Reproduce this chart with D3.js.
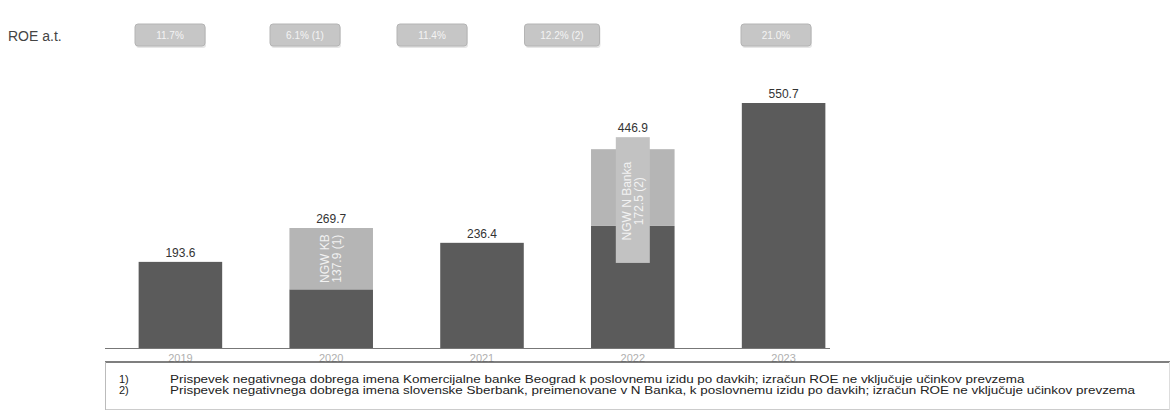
<!DOCTYPE html>
<html>
<head>
<meta charset="utf-8">
<script src="https://cdn.jsdelivr.net/npm/d3@7"></script>
<style>
  body { margin: 0; background: #fff; }
  svg { display: block; font-family: "Liberation Sans", Arial, sans-serif; }
</style>
</head>
<body>
<script>
// data
var years = ["2019", "2020", "2021", "2022", "2023"];
var totals = [193.6, 269.7, 236.4, 446.9, 550.7];
var ngw = [0, 137.9, 0, 172.5, 0];
var ngwLabels = ["", "NGW KB|137.9 (1)", "", "NGW N Banka|172.5 (2)", ""];
var roe = ["11.7%", "6.1% (1)", "11.4%", "12.2% (2)", "21.0%"];
var notes = [
  ["1)", "Prispevek negativnega dobrega imena Komercijalne banke Beograd k poslovnemu izidu po davkih; izračun ROE ne vključuje učinkov prevzema"],
  ["2)", "Prispevek negativnega dobrega imena slovenske Sberbank, preimenovane v N Banka, k poslovnemu izidu po davkih; izračun ROE ne vključuje učinkov prevzema"]
];

var W = 1174, H = 414;
var baseY = 348;

var svg = d3.select("body").append("svg")
  .attr("width", W)
  .attr("height", H);

var x = d3.scaleBand()
  .domain(years)
  .range([105, 859])
  .paddingInner(0.446)
  .paddingOuter(0.223);

var y = d3.scaleLinear()
  .domain([0, 550.7])
  .range([baseY, 103]);

// ROE boxes (not aligned to bars in the original)
var roeX = d3.scaleOrdinal().domain(years).range([170, 305, 432, 562, 776]);
var roeW = [70, 70, 70, 75, 70];

svg.append("text")
  .attr("x", 8).attr("y", 41)
  .attr("font-size", 14)
  .attr("fill", "#444")
  .text("ROE a.t.");

var roeG = svg.selectAll(".roe")
  .data(years)
  .enter().append("g")
  .attr("class", "roe");

roeG.append("rect")
  .attr("x", function(d, i) { return roeX(d) - roeW[i] / 2 + 1; })
  .attr("y", 26)
  .attr("width", function(d, i) { return roeW[i]; })
  .attr("height", 22)
  .attr("rx", 3)
  .attr("fill", "#e6e6e6");

roeG.append("rect")
  .attr("x", function(d, i) { return roeX(d) - roeW[i] / 2; })
  .attr("y", 24)
  .attr("width", function(d, i) { return roeW[i]; })
  .attr("height", 22)
  .attr("rx", 3)
  .attr("fill", "#c6c6c6")
  .attr("stroke", "#b4b4b4");

roeG.append("text")
  .attr("x", function(d) { return roeX(d); })
  .attr("y", 39)
  .attr("text-anchor", "middle")
  .attr("font-size", 10)
  .attr("fill", "#f4f4f4")
  .text(function(d, i) { return roe[i]; });

// baseline
svg.append("line")
  .attr("x1", 105).attr("x2", 830)
  .attr("y1", baseY + 0.5).attr("y2", baseY + 0.5)
  .attr("stroke", "#777")
  .attr("stroke-width", 1);

// dark part
svg.selectAll(".dark")
  .data(years)
  .enter().append("rect")
  .attr("x", function(d) { return x(d); })
  .attr("width", x.bandwidth())
  .attr("y", function(d, i) { return y(totals[i] - ngw[i]); })
  .attr("height", function(d, i) { return baseY - y(totals[i] - ngw[i]); })
  .attr("fill", "#5b5b5b");

// light NGW part
svg.selectAll(".light")
  .data(years.filter(function(d, i) { return ngw[i] > 0; }))
  .enter().append("rect")
  .attr("x", function(d) { return x(d); })
  .attr("width", x.bandwidth())
  .attr("y", function(d) { var i = years.indexOf(d); return y(totals[i]); })
  .attr("height", function(d) { var i = years.indexOf(d); return y(totals[i] - ngw[i]) - y(totals[i]); })
  .attr("fill", "#b5b5b5");

// 2022 label background sticking out of the bar
var i22 = years.indexOf("2022");
svg.append("rect")
  .attr("x", x("2022") + x.bandwidth() / 2 - 17)
  .attr("width", 34)
  .attr("y", y(totals[i22]) - 12)
  .attr("height", y(totals[i22] - ngw[i22]) + 37 - (y(totals[i22]) - 12))
  .attr("fill", "#c2c2c2");

// rotated NGW labels
years.forEach(function(d, i) {
  if (!ngw[i]) return;
  var lines = ngwLabels[i].split("|");
  var cx = x(d) + x.bandwidth() / 2;
  var cy = i === 1 ? (y(totals[i]) + y(totals[i] - ngw[i])) / 2 : y(totals[i]) + 52;
  var t = svg.append("text")
    .attr("transform", "translate(" + cx + "," + cy + ") rotate(-90)")
    .attr("text-anchor", "middle")
    .attr("font-size", 12)
    .attr("fill", "#f2f2f2");
  t.append("tspan").attr("x", 0).attr("dy", -2).text(lines[0]);
  t.append("tspan").attr("x", 0).attr("dy", 12).text(lines[1]);
});

// total labels
svg.selectAll(".val")
  .data(years)
  .enter().append("text")
  .attr("x", function(d) { return x(d) + x.bandwidth() / 2; })
  .attr("y", function(d, i) { return y(totals[i]) - (i === 3 ? 17 : 5); })
  .attr("text-anchor", "middle")
  .attr("font-size", 12)
  .attr("fill", "#333")
  .text(function(d, i) { return totals[i].toFixed(1); });

// x axis labels
svg.append("g")
  .attr("transform", "translate(0," + (baseY + 2) + ")")
  .call(d3.axisBottom(x).tickSize(0).tickPadding(4))
  .call(function(g) { g.select(".domain").remove(); })
  .selectAll("text")
  .attr("font-size", 11)
  .attr("font-family", "Liberation Sans, Arial, sans-serif")
  .attr("fill", "#b0b0b0");

// footnote box
svg.append("line")
  .attr("x1", 105).attr("x2", 1170)
  .attr("y1", 362).attr("y2", 362)
  .attr("stroke", "#555").attr("stroke-width", 1.5);
svg.append("line")
  .attr("x1", 105).attr("x2", 1170)
  .attr("y1", 409.5).attr("y2", 409.5)
  .attr("stroke", "#ccc").attr("stroke-width", 1);
svg.append("line")
  .attr("x1", 105.5).attr("x2", 105.5)
  .attr("y1", 362).attr("y2", 410)
  .attr("stroke", "#bbb");
svg.append("line")
  .attr("x1", 1169.5).attr("x2", 1169.5)
  .attr("y1", 362).attr("y2", 410)
  .attr("stroke", "#ddd");

var nt = svg.selectAll(".note")
  .data(notes)
  .enter().append("g");
nt.append("text")
  .attr("x", 119)
  .attr("y", function(d, i) { return 383 + i * 11; })
  .attr("font-size", 11)
  .attr("fill", "#222")
  .text(function(d) { return d[0]; });
var noteText = nt.append("text")
  .attr("x", 170)
  .attr("y", function(d, i) { return 383 + i * 11; })
  .attr("font-size", 11)
  .attr("fill", "#222")
  .text(function(d) { return d[1]; });
// the scan's footnote font is wider than Liberation Sans; stretch to match
var longest = d3.max(noteText.nodes(), function(n) { return n.getComputedTextLength(); });
var stretch = 965 / longest;
noteText.each(function() {
  var len = this.getComputedTextLength();
  d3.select(this)
    .attr("textLength", len * stretch)
    .attr("lengthAdjust", "spacingAndGlyphs");
});
</script>
</body>
</html>
